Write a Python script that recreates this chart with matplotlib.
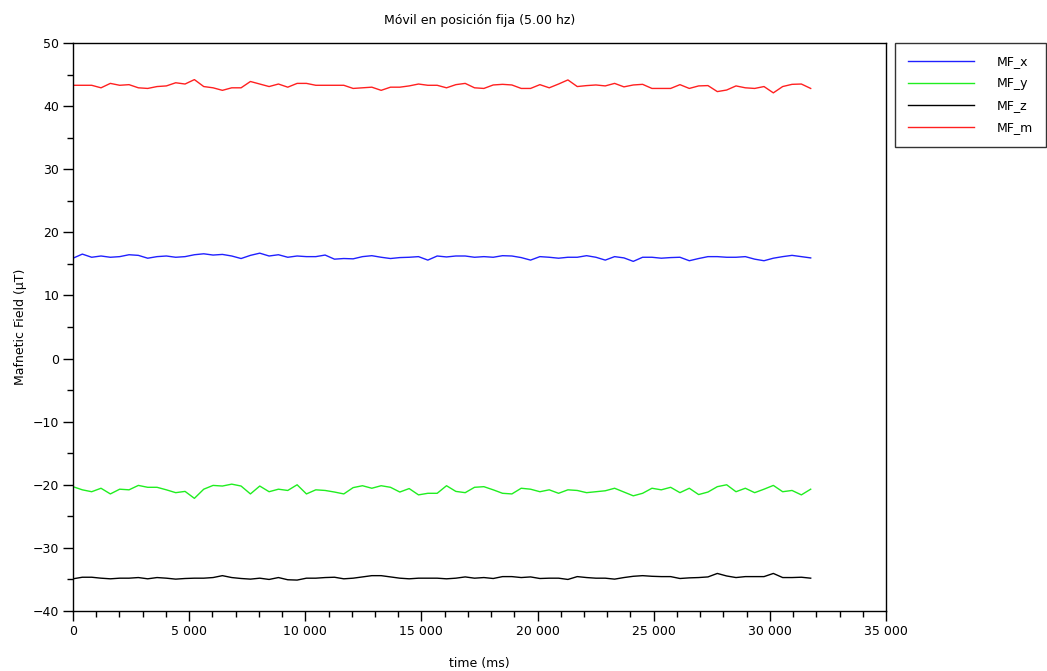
import numpy as np
import matplotlib
matplotlib.use("Agg")
import matplotlib.pyplot as plt
from matplotlib.ticker import MultipleLocator, FuncFormatter

step_ms = 402
mf_m = [43.3, 43.3, 43.3, 42.9, 43.6, 43.3, 43.4, 42.9, 42.8, 43.1,
        43.2, 43.7, 43.5, 44.2, 43.1, 42.9, 42.5, 42.9, 42.9, 43.9,
        43.5, 43.1, 43.5, 43.0, 43.6, 43.6, 43.3, 43.3, 43.3, 43.3,
        42.8, 42.9, 43.0, 42.5, 43.0, 43.0, 43.2, 43.5, 43.3, 43.3,
        42.9, 43.4, 43.6, 42.9, 42.8, 43.35, 43.45, 43.35, 42.8, 42.8,
        43.4, 42.9, 43.5, 44.15, 43.1, 43.25, 43.35, 43.2, 43.6, 43.05,
        43.35, 43.45, 42.8, 42.8, 42.8, 43.4, 42.8, 43.2, 43.25, 42.3,
        42.55, 43.2, 42.9, 42.8, 43.1, 42.1, 43.1, 43.45, 43.5, 42.8]
mf_x = [15.9, 16.55, 16.05, 16.25, 16.05, 16.15, 16.45, 16.35, 15.9, 16.15,
        16.25, 16.05, 16.15, 16.45, 16.6, 16.4, 16.5, 16.25, 15.85, 16.35,
        16.7, 16.25, 16.45, 16.05, 16.25, 16.15, 16.15, 16.4, 15.75, 15.85,
        15.8, 16.15, 16.3, 16.05, 15.85, 16.0, 16.05, 16.15, 15.6, 16.25,
        16.1, 16.25, 16.25, 16.05, 16.15, 16.05, 16.3, 16.25, 16.0, 15.6,
        16.15, 16.05, 15.9, 16.05, 16.05, 16.3, 16.05, 15.6, 16.15, 15.95,
        15.4, 16.05, 16.05, 15.9, 16.0, 16.05, 15.5, 15.85, 16.15, 16.15,
        16.05, 16.05, 16.15, 15.75, 15.5, 15.9, 16.15, 16.35, 16.15, 15.95]
mf_y = [-20.3, -20.8, -21.1, -20.55, -21.45, -20.7, -20.8, -20.1, -20.4, -20.4,
        -20.8, -21.25, -21.05, -22.15, -20.7, -20.1, -20.2, -19.9, -20.2, -21.45,
        -20.2, -21.1, -20.7, -20.9, -20.0, -21.45, -20.8, -20.9, -21.15, -21.45,
        -20.45, -20.15, -20.55, -20.15, -20.4, -21.15, -20.6, -21.6, -21.35, -21.35,
        -20.15, -21.05, -21.25, -20.4, -20.3, -20.8, -21.35, -21.45, -20.55, -20.7,
        -21.1, -20.8, -21.35, -20.8, -20.9, -21.25, -21.1, -20.95, -20.55, -21.15,
        -21.75, -21.35, -20.55, -20.8, -20.4, -21.25, -20.55, -21.55, -21.15, -20.3,
        -20.0, -21.1, -20.55, -21.25, -20.7, -20.1, -21.1, -20.9, -21.6, -20.7]
mf_z = [-34.9, -34.65, -34.65, -34.8, -34.9, -34.8, -34.8, -34.7, -34.9, -34.7,
        -34.8, -34.95, -34.85, -34.8, -34.8, -34.7, -34.4, -34.7, -34.85, -34.95,
        -34.8, -35.0, -34.7, -35.05, -35.1, -34.8, -34.8, -34.7, -34.65, -34.9,
        -34.8, -34.6, -34.4, -34.4, -34.6, -34.8, -34.9, -34.8, -34.8, -34.8,
        -34.9, -34.8, -34.6, -34.8, -34.7, -34.85, -34.55, -34.55, -34.7, -34.6,
        -34.85, -34.8, -34.8, -35.0, -34.55, -34.7, -34.8, -34.8, -34.95, -34.7,
        -34.5, -34.4, -34.5, -34.55, -34.55, -34.85, -34.75, -34.7, -34.6, -34.05,
        -34.45, -34.7, -34.55, -34.55, -34.55, -34.05, -34.7, -34.7, -34.65, -34.8]
time_ms = np.arange(len(mf_x)) * step_ms

labels = ["MF_x", "MF_y", "MF_z", "MF_m"]
colors = ["#2020ff", "#20ee20", "#000000", "#ff2020"]

plt.rcParams['font.family'] = ['DejaVu Sans']
fig = plt.figure(figsize=(10.47, 6.71), dpi=100)
ax = fig.add_axes([73/1047, 1-611/671, (886-73)/1047, (611-43)/671])

for data, lab, col in zip([mf_x, mf_y, mf_z, mf_m], labels, colors):
    ax.plot(time_ms, data, color=col, lw=1.0, label=lab)

ax.set_xlim(0, 35000)
ax.set_ylim(-40, 50)
ax.xaxis.set_major_locator(MultipleLocator(5000))
ax.xaxis.set_minor_locator(MultipleLocator(1000))
ax.yaxis.set_major_locator(MultipleLocator(10))
ax.yaxis.set_minor_locator(MultipleLocator(5))
ax.xaxis.set_major_formatter(FuncFormatter(lambda v, p: f"{int(v):,}".replace(",", " ")))
ax.yaxis.set_major_formatter(FuncFormatter(lambda v, p: f"{int(v)}".replace("-", "\u2212")))
ax.tick_params(axis='both', which='major', direction='out', length=7, width=1, labelsize=9, pad=3)
ax.tick_params(axis='both', which='minor', direction='out', length=4, width=1)
for s in ax.spines.values():
    s.set_linewidth(1.0)
    s.set_color('black')

ax.set_title("Móvil en posición fija (5.00 hz)", fontsize=9, pad=14)
ax.set_xlabel("time (ms)", fontsize=9, labelpad=14)
ax.set_ylabel("Mafnetic Field (µT)", fontsize=9, labelpad=4)

leg = fig.legend(loc='upper left', bbox_to_anchor=(895/1047, 1-43/671), fontsize=9,
                 frameon=True, fancybox=False, shadow=False, handlelength=5.3,
                 handletextpad=1.85, borderpad=1.0, labelspacing=0.72, borderaxespad=0)
leg.get_frame().set_edgecolor('black')
leg.get_frame().set_linewidth(1.0)

fig.savefig("out.png", dpi=100)
